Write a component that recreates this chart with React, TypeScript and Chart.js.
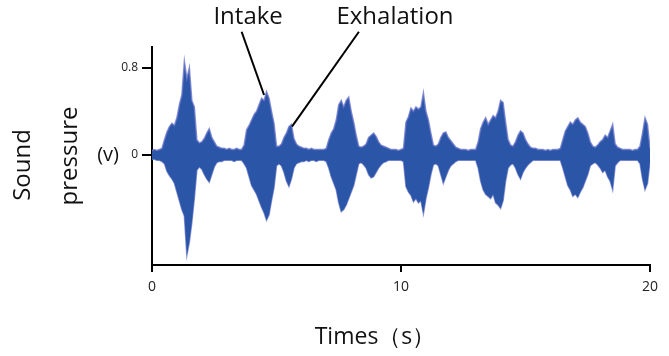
import { useEffect, useRef } from "react";
import { Chart, registerables } from "chart.js";

Chart.register(...registerables);

// Waveform envelope sampled every 0.1 s (sound pressure, V)
const SAMPLE_STEP = 0.1;
const UPPER = [
  0.04, 0.05, 0.04, 0.05, 0.06, 0.14, 0.21, 0.26, 0.29, 0.27,
  0.34, 0.46, 0.55, 0.86, 0.70, 0.80, 0.50, 0.44, 0.14, 0.11,
  0.12, 0.15, 0.20, 0.24, 0.16, 0.12, 0.08, 0.07, 0.06, 0.06,
  0.05, 0.06, 0.05, 0.05, 0.06, 0.05, 0.05, 0.09, 0.23, 0.27,
  0.32, 0.37, 0.40, 0.46, 0.52, 0.50, 0.58, 0.52, 0.40, 0.29,
  0.08, 0.08, 0.10, 0.16, 0.20, 0.26, 0.28, 0.15, 0.10, 0.08,
  0.07, 0.06, 0.06, 0.05, 0.06, 0.05, 0.05, 0.05, 0.05, 0.05,
  0.06, 0.14, 0.20, 0.24, 0.32, 0.46, 0.50, 0.44, 0.50, 0.53,
  0.40, 0.30, 0.18, 0.08, 0.07, 0.08, 0.10, 0.16, 0.18, 0.20,
  0.17, 0.12, 0.09, 0.08, 0.07, 0.06, 0.05, 0.05, 0.05, 0.04,
  0.05, 0.06, 0.30, 0.35, 0.43, 0.40, 0.44, 0.42, 0.44, 0.57,
  0.40, 0.32, 0.20, 0.09, 0.08, 0.10, 0.16, 0.20, 0.21, 0.16,
  0.13, 0.10, 0.07, 0.06, 0.05, 0.05, 0.05, 0.04, 0.05, 0.05,
  0.05, 0.12, 0.24, 0.30, 0.34, 0.28, 0.32, 0.36, 0.34, 0.40,
  0.50, 0.48, 0.30, 0.14, 0.09, 0.08, 0.12, 0.18, 0.22, 0.20,
  0.14, 0.10, 0.07, 0.06, 0.06, 0.05, 0.05, 0.05, 0.04, 0.05,
  0.04, 0.05, 0.05, 0.05, 0.06, 0.14, 0.22, 0.26, 0.30, 0.28,
  0.32, 0.34, 0.30, 0.28, 0.26, 0.20, 0.12, 0.08, 0.07, 0.09,
  0.12, 0.14, 0.18, 0.16, 0.22, 0.28, 0.10, 0.07, 0.06, 0.05,
  0.05, 0.05, 0.05, 0.04, 0.05, 0.05, 0.08, 0.20, 0.34, 0.28,
  0.06,
];
const LOWER = [
  -0.04, -0.04, -0.05, -0.05, -0.06, -0.08, -0.15, -0.19, -0.22, -0.26,
  -0.34, -0.42, -0.50, -0.56, -0.92, -0.80, -0.62, -0.40, -0.14, -0.11,
  -0.13, -0.18, -0.22, -0.25, -0.18, -0.11, -0.07, -0.06, -0.06, -0.05,
  -0.05, -0.05, -0.05, -0.06, -0.05, -0.05, -0.05, -0.08, -0.12, -0.20,
  -0.28, -0.32, -0.36, -0.42, -0.48, -0.53, -0.60, -0.55, -0.42, -0.30,
  -0.10, -0.08, -0.10, -0.16, -0.24, -0.29, -0.22, -0.12, -0.08, -0.07,
  -0.06, -0.06, -0.05, -0.06, -0.05, -0.05, -0.06, -0.05, -0.05, -0.05,
  -0.06, -0.12, -0.20, -0.26, -0.32, -0.44, -0.52, -0.50, -0.46, -0.40,
  -0.34, -0.28, -0.18, -0.08, -0.07, -0.09, -0.12, -0.18, -0.21, -0.20,
  -0.16, -0.12, -0.09, -0.07, -0.06, -0.05, -0.05, -0.05, -0.05, -0.05,
  -0.05, -0.06, -0.29, -0.34, -0.37, -0.43, -0.40, -0.44, -0.42, -0.54,
  -0.40, -0.30, -0.18, -0.09, -0.08, -0.10, -0.18, -0.26, -0.20, -0.14,
  -0.10, -0.08, -0.06, -0.05, -0.05, -0.05, -0.05, -0.05, -0.05, -0.05,
  -0.05, -0.12, -0.24, -0.32, -0.36, -0.38, -0.40, -0.36, -0.44, -0.46,
  -0.49, -0.42, -0.24, -0.12, -0.09, -0.08, -0.12, -0.18, -0.22, -0.16,
  -0.12, -0.09, -0.07, -0.05, -0.05, -0.05, -0.05, -0.05, -0.05, -0.05,
  -0.05, -0.05, -0.05, -0.05, -0.05, -0.12, -0.20, -0.28, -0.32, -0.38,
  -0.36, -0.39, -0.34, -0.30, -0.24, -0.18, -0.10, -0.08, -0.07, -0.09,
  -0.12, -0.16, -0.14, -0.20, -0.24, -0.32, -0.10, -0.07, -0.05, -0.05,
  -0.05, -0.05, -0.05, -0.05, -0.05, -0.05, -0.08, -0.22, -0.32, -0.26,
  -0.06,
];
const TIMES = UPPER.map((_, i) => +(i * SAMPLE_STEP).toFixed(1));

const X_MIN = 0;
const X_MAX = 20;
const X_TICKS = [0, 10, 20];
const Y_MIN = -1.01;
const Y_MAX = 0.99;
const Y_TICKS = [0, 0.8];
const Y_TICK_LABELS = ["0", "0.8"];

const X_TITLE = "Times\uFF08s\uFF09";
const Y_TITLE_LINES = ["Sound", "pressure"];
const Y_UNIT = "(v)";

// Callouts in data coordinates
const CALLOUT_LABELS = ["Intake", "Exhalation"];
const CALLOUT_TEXT_T = [3.86, 9.76];
const CALLOUT_TEXT_V = [1.26, 1.26];
const CALLOUT_FROM_T = [3.6, 8.31];
const CALLOUT_FROM_V = [1.13, 1.13];
const CALLOUT_TO_T = [4.5, 5.62];
const CALLOUT_TO_V = [0.55, 0.26];

const FONT = "'Open Sans', 'Noto Sans', sans-serif";

const overlayPlugin = {
  id: "overlay",
  afterDraw(chart: any) {
    const { ctx, scales } = chart;
    const xs = scales.x;
    const ys = scales.y;
    ctx.save();
    ctx.fillStyle = "#111";
    ctx.strokeStyle = "#000";
    ctx.lineWidth = 2;
    ctx.textAlign = "center";
    ctx.textBaseline = "middle";
    ctx.font = `24px ${FONT}`;
    CALLOUT_LABELS.forEach((label, i) => {
      ctx.beginPath();
      ctx.moveTo(xs.getPixelForValue(CALLOUT_FROM_T[i]), ys.getPixelForValue(CALLOUT_FROM_V[i]));
      ctx.lineTo(xs.getPixelForValue(CALLOUT_TO_T[i]), ys.getPixelForValue(CALLOUT_TO_V[i]));
      ctx.stroke();
      ctx.fillText(label, xs.getPixelForValue(CALLOUT_TEXT_T[i]), ys.getPixelForValue(CALLOUT_TEXT_V[i]));
    });

    // Axis titles
    ctx.font = `23px ${FONT}`;
    ctx.fillText(X_TITLE, (xs.left + xs.right) / 2 - 26, 337);

    ctx.textAlign = "right";
    ctx.font = `20px ${FONT}`;
    ctx.fillText(Y_UNIT, 119, ys.getPixelForValue(0));

    ctx.textAlign = "center";
    ctx.font = `24px ${FONT}`;
    const centers = [
      [23, 165],
      [70, 156],
    ];
    Y_TITLE_LINES.forEach((line, i) => {
      ctx.save();
      ctx.translate(centers[i][0], centers[i][1]);
      ctx.rotate(-Math.PI / 2);
      ctx.fillText(line, 0, 0);
      ctx.restore();
    });
    ctx.restore();
  },
};

export default function App() {
  const ref = useRef<HTMLCanvasElement | null>(null);

  useEffect(() => {
    if (!ref.current) return;
    const chart = new Chart(ref.current, {
      type: "line",
      data: {
        datasets: [
          {
            label: "upper",
            data: TIMES.map((t, i) => ({ x: t, y: UPPER[i] })),
            borderColor: "rgba(110,120,205,0.8)",
            borderWidth: 1.5,
            backgroundColor: "#2b55a7",
            fill: "+1",
            pointRadius: 0,
            tension: 0,
          },
          {
            label: "lower",
            data: TIMES.map((t, i) => ({ x: t, y: LOWER[i] })),
            borderColor: "rgba(110,120,205,0.8)",
            borderWidth: 1.5,
            backgroundColor: "#2b55a7",
            fill: false,
            pointRadius: 0,
            tension: 0,
          },
          {
            label: "baseline",
            data: [
              { x: TIMES[0], y: 0 },
              { x: TIMES[TIMES.length - 1], y: 0 },
            ],
            borderColor: "#1d3b82",
            borderWidth: 2,
            fill: false,
            pointRadius: 0,
          },
        ],
      },
      options: {
        animation: false,
        responsive: false,
        maintainAspectRatio: false,
        layout: { padding: { left: 0, top: 47, right: 19, bottom: 0 } },
        plugins: {
          legend: { display: false },
          tooltip: { enabled: false },
        },
        scales: {
          x: {
            type: "linear",
            min: X_MIN,
            max: X_MAX,
            afterBuildTicks: (s: any) => {
              s.ticks = X_TICKS.map((v) => ({ value: v }));
            },
            afterFit: (s: any) => {
              s.height = 91;
            },
            ticks: {
              color: "#222",
              font: { family: FONT, size: 14 },
              padding: 7,
              maxRotation: 0,
              callback: (v: any) => String(v),
            },
            grid: {
              display: true,
              drawOnChartArea: false,
              drawTicks: true,
              tickLength: 7,
              color: "#000",
              lineWidth: 2,
            },
            border: { display: true, color: "#000", width: 2 },
          },
          y: {
            type: "linear",
            min: Y_MIN,
            max: Y_MAX,
            afterBuildTicks: (s: any) => {
              s.ticks = Y_TICKS.map((v) => ({ value: v }));
            },
            afterFit: (s: any) => {
              s.width = 152;
            },
            ticks: {
              color: "#222",
              font: { family: FONT, size: 12 },
              padding: 4,
              callback: (v: any) => {
                const idx = Y_TICKS.indexOf(Number(v));
                return idx >= 0 ? Y_TICK_LABELS[idx] : "";
              },
            },
            grid: {
              display: true,
              drawOnChartArea: false,
              drawTicks: true,
              tickLength: 10,
              color: "#000",
              lineWidth: 2,
            },
            border: { display: true, color: "#000", width: 2 },
          },
        },
      },
      plugins: [overlayPlugin],
    });
    return () => chart.destroy();
  }, []);

  return (
    <div style={{ position: "fixed", left: 0, top: 0, width: 669, height: 356, background: "#fff" }}>
      <canvas ref={ref} width={669} height={356} style={{ width: 669, height: 356 }} />
    </div>
  );
}
